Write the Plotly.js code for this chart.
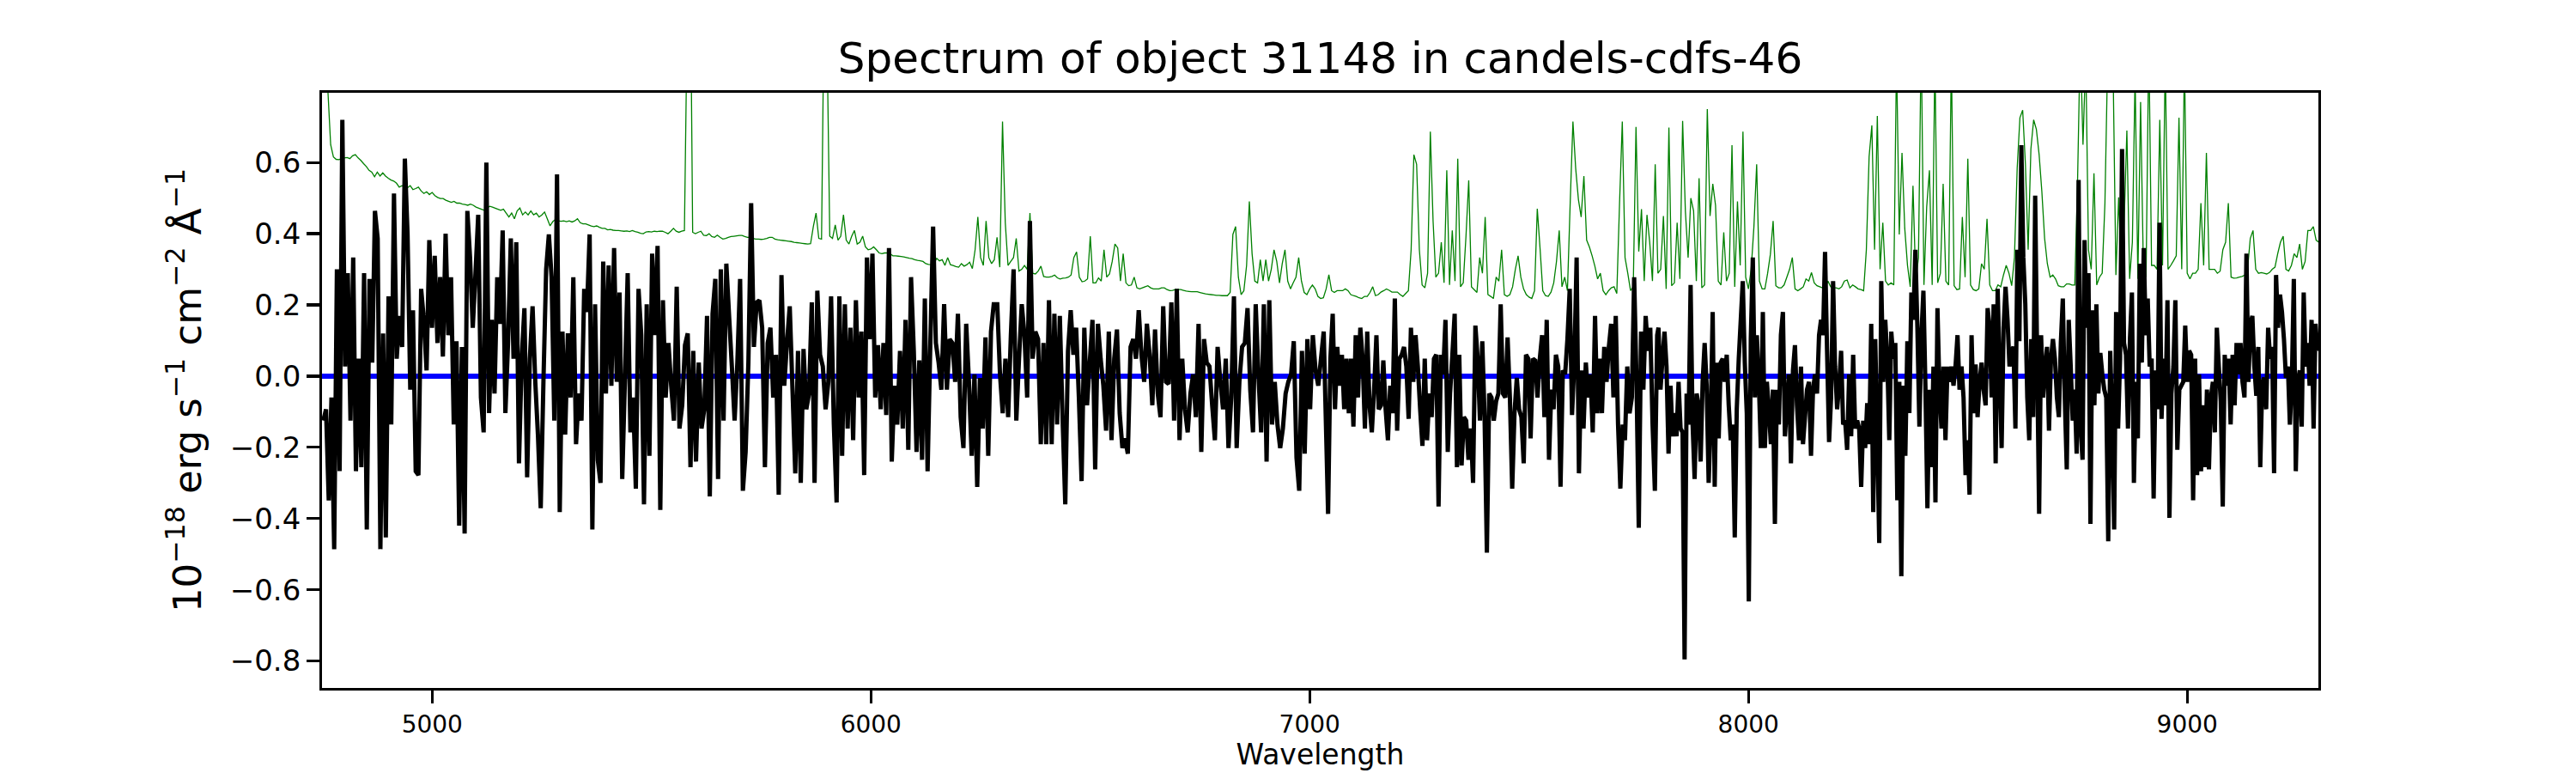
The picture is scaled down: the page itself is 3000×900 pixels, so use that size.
<!DOCTYPE html>
<html>
<head>
<meta charset="utf-8">
<script src="https://cdn.plot.ly/plotly-3.0.1.min.js"></script>
<style>
  body { margin: 0; background: #fff; }
  #chart { width: 3000px; height: 900px; }
</style>
</head>
<body>
<div id="chart"></div>
<script>
// flux of the object in six pieces (start / end wavelength of each piece)
const segStart = [4752, 5526, 6288, 7042, 7795, 8577];
const segEnd = [5520, 6280, 7032, 7792, 8568, 9297];

const flux1 = [-0.125,-0.093,-0.349,-0.06,-0.486,0.30,-0.267,0.72,0.027,0.289,
  -0.125,0.333,-0.267,0.049,-0.256,0.289,-0.431,0.273,0.038,0.464,
  0.387,-0.486,0.12,-0.453,0.224,-0.136,0.513,0.049,0.169,0.082,
  0.611,0.398,-0.038,0.185,-0.267,-0.278,0.245,0.158,0.016,0.382,
  0.136,0.338,0.093,0.278,0.055,0.40,0.115,0.278,-0.136,0.098,
  -0.42,0.082,-0.442,0.464,0.333,0.136,0.289,0.453,-0.06,-0.158,
  0.60,-0.104,0.158,-0.049,0.278,0.147,0.409,-0.104,0.098,0.387,
  0.049,0.376,-0.245,0.049,0.191,-0.284,0.049,0.196,-0.016,-0.169,
  -0.371,-0.016,0.30,0.398,0.278,-0.125,0.567,-0.382,0.125,-0.164,
  0.12,-0.06,0.278,-0.191,-0.049,-0.125,0.245,0.18,0.398,-0.431,
  0.202,-0.235,-0.30,0.322,-0.049,0.311,-0.027,0.36,-0.016,0.235,
  -0.289,-0.005,0.289,-0.158,-0.06,-0.316,0.245,0.115,-0.36,0.202,
  -0.224,0.344,0.115,0.366,-0.376];
const flux2 = [0.213,-0.06,0.093,-0.027,-0.125,0.251,-0.147,-0.082,0.087,0.12,
  -0.256,0.071,-0.24,0.038,-0.147,-0.093,0.169,-0.338,0.175,0.273,
  -0.289,0.30,-0.125,0.316,0.169,0.027,-0.125,0.038,0.273,-0.322,
  -0.213,0.038,0.486,0.082,0.207,0.213,0.136,-0.256,0.093,0.136,
  -0.06,0.06,-0.333,0.284,-0.027,0.093,0.196,-0.038,-0.273,0.071,
  -0.30,0.076,-0.093,-0.049,0.207,-0.30,0.24,0.06,0.027,-0.093,
  -0.016,0.224,-0.136,-0.355,0.224,-0.224,0.202,-0.147,0.136,-0.18,
  0.213,-0.06,0.125,-0.278,0.333,0.104,0.344,-0.06,0.087,-0.093,
  0.093,-0.109,0.36,-0.24,-0.027,-0.136,0.071,-0.147,0.158,-0.207,
  0.278,0.071,-0.213,0.044,-0.235,0.218,-0.267,0.093,0.42,0.093,
  0.038,-0.038,0.202,-0.038,0.104,0.093,-0.016,0.175,-0.115,-0.202,
  0.147,-0.016,-0.224,0.005,-0.311,-0.005,-0.147,0.109,-0.224,0.125,
  0.202];
const flux3 = [0.202,0.005,-0.104,0.049,-0.115,0.115,0.30,-0.125,0.049,0.202,
  0.115,-0.06,0.436,0.049,0.125,0.104,-0.191,0.093,-0.191,0.213,
  -0.191,0.175,-0.136,0.169,-0.115,-0.36,0.071,0.185,0.06,0.136,
  -0.06,-0.295,0.136,-0.082,0.038,0.158,-0.262,0.147,0.049,-0.027,
  -0.153,0.125,-0.18,0.049,0.131,-0.104,-0.202,-0.175,-0.218,0.082,
  0.104,0.049,0.185,0.06,-0.016,0.147,0.06,-0.082,0.131,-0.049,
  -0.115,0.196,-0.016,-0.022,0.207,-0.125,0.245,-0.18,0.049,-0.093,
  -0.158,-0.049,0.005,-0.115,0.147,-0.213,0.104,0.038,0.027,-0.082,
  -0.18,0.082,-0.016,-0.093,0.049,-0.202,-0.06,0.224,-0.202,-0.016,
  0.082,0.093,0.191,-0.038,-0.158,0.202,0.005,-0.158,0.202,-0.24,
  0.213,-0.136,-0.016,-0.136,-0.202,-0.147,-0.049,-0.016,0.005,0.098,
  -0.229,-0.322,0.071,-0.218,0.104,-0.093,0.115,0.016,-0.027,0.049,
  0.125];
const flux4 = [-0.387,0.049,0.175,-0.093,0.082,-0.027,0.06,-0.093,0.049,-0.104,
  0.049,-0.142,0.115,-0.06,0.136,0.049,-0.147,0.125,-0.082,-0.158,
  -0.038,0.115,-0.093,-0.082,0.044,-0.093,-0.18,-0.027,-0.104,0.218,
  -0.153,0.049,0.06,0.082,0.027,-0.12,0.136,-0.016,0.115,0.027,
  -0.093,-0.196,0.049,-0.18,-0.049,-0.115,0.049,0.06,-0.366,0.06,
  0.005,0.158,-0.213,-0.049,0.06,0.175,-0.256,0.06,-0.251,-0.115,
  -0.125,-0.235,-0.147,-0.30,0.142,0.049,-0.125,0.098,-0.115,-0.496,
  -0.049,-0.06,-0.125,-0.071,-0.049,0.202,-0.049,-0.06,0.109,-0.06,
  -0.316,-0.104,-0.005,-0.093,-0.115,-0.245,0.06,0.049,-0.175,0.049,
  0.044,-0.06,0.049,0.115,-0.115,0.158,-0.235,-0.038,-0.093,0.06,
  0.027,-0.311,0.016,0.005,0.104,0.245,-0.109,0.038,0.333,-0.273,
  0.016,-0.147,0.038,-0.06,0.005,-0.158,0.169,-0.104,0.049,-0.104,
  0.082,-0.016,0.082,0.147,-0.06,0.169,-0.136,-0.316,-0.136,-0.18,
  0.027,-0.104,-0.06,0.278,-0.005,-0.426,0.125,-0.038,0.169,0.071,
  0.136,-0.136,-0.322,0.115];
const flux5 = [0.136,-0.038,0.049,0.125,0.027,-0.218,-0.027,-0.169,-0.104,-0.169,
  -0.016,-0.147,-0.158,-0.796,-0.049,-0.136,0.256,-0.136,-0.289,-0.049,
  -0.082,-0.24,-0.016,0.093,-0.027,-0.30,-0.125,0.18,-0.311,0.038,
  -0.175,0.038,0.049,-0.016,0.06,-0.082,-0.18,-0.136,-0.453,-0.093,
  0.049,0.158,0.267,0.038,-0.104,-0.633,0.104,0.333,-0.06,0.115,
  -0.016,-0.202,0.18,-0.202,-0.016,-0.093,-0.191,-0.038,-0.415,-0.038,
  -0.136,0.115,0.18,-0.169,-0.082,0.005,-0.245,0.016,0.087,-0.082,
  -0.18,0.027,-0.191,-0.115,-0.038,-0.016,-0.224,-0.038,0.005,-0.049,
  0.115,0.158,0.115,0.349,0.071,-0.185,-0.06,0.267,0.027,-0.093,
  -0.027,0.071,-0.136,-0.125,-0.207,0.005,-0.169,0.06,-0.147,-0.125,
  -0.147,-0.311,-0.125,-0.202,-0.076,-0.191,0.147,-0.382,0.104,-0.169,
  -0.469,0.267,-0.016,0.158,0.049,-0.18,0.125,0.049,0.093,-0.349,
  -0.016,-0.562,-0.027,-0.224,0.098,-0.104,0.235,0.158,0.355,0.136,
  -0.142,0.115,0.24,-0.027,-0.371,-0.038,-0.256,0.027,-0.355,0.191,
  -0.038,-0.147,0.027,-0.18,0.027,-0.016,0.027,-0.027,0.027,0.115,
  -0.038,0.027,-0.06,-0.278,-0.18,-0.333,0.115,-0.104,0.033,-0.115,
  -0.016,0.038,-0.038,-0.082,0.191,0.136,-0.06,0.202,-0.245,0.245];
const flux6 = [-0.202,0.136,0.251,0.158,0.027,0.071,0.082,-0.147,0.355,0.098,
  0.649,0.333,0.202,-0.06,-0.18,0.104,-0.115,0.507,0.049,-0.387,
  0.115,-0.06,0.027,0.082,-0.153,0.049,0.104,0.049,-0.06,-0.115,
  0.093,0.218,-0.06,-0.262,0.158,0.027,-0.125,-0.038,-0.218,0.551,
  -0.147,-0.235,0.382,0.136,0.289,-0.415,0.185,-0.082,0.202,-0.049,
  0.065,0.005,-0.038,-0.06,-0.464,0.071,-0.125,-0.431,0.18,-0.147,
  0.049,0.638,0.093,0.06,-0.147,0.104,0.235,-0.30,-0.016,-0.175,
  0.316,0.038,0.36,0.115,0.218,0.027,0.049,-0.344,0.016,-0.093,
  0.431,-0.12,0.049,-0.082,0.213,-0.398,-0.049,0.027,0.213,-0.207,
  -0.038,-0.027,-0.016,0.142,-0.016,0.071,0.06,-0.349,0.049,-0.278,
  0.005,-0.267,-0.082,-0.256,-0.038,-0.262,-0.06,-0.016,-0.158,0.136,
  0.027,-0.071,-0.366,0.06,-0.027,0.049,-0.136,0.06,-0.082,0.093,
  0.005,0.093,-0.016,-0.06,0.344,-0.016,0.147,0.169,0.027,-0.055,
  0.082,-0.256,-0.016,-0.005,-0.093,0.136,0.049,0.082,-0.273,0.284,
  0.136,0.229,0.18,0.104,-0.005,0.027,-0.136,-0.016,0.273,-0.267,
  -0.016,0.016,-0.142,0.235,0.027,0.093,-0.027,0.158,-0.147,0.147,
  0.071];

// noise spectrum (green), on a regular grid of 6.25 A from 4750 A
const noiseStart = 4750;
const noiseStep = 6.25;
const noise1 = [1.0,0.9,0.8,0.65,0.616,0.609,0.608,0.611,0.613,0.614,
  0.611,0.619,0.622,0.613,0.606,0.597,0.589,0.578,0.573,0.56,
  0.573,0.562,0.571,0.562,0.556,0.551,0.548,0.542,0.531,0.535,
  0.531,0.529,0.535,0.524,0.527,0.531,0.52,0.513,0.518,0.51,
  0.516,0.507,0.502,0.499,0.499,0.494,0.491,0.488,0.491,0.486,
  0.486,0.483,0.482,0.48,0.483,0.48,0.475,0.472,0.469,0.466,
  0.472,0.477,0.475,0.472,0.469,0.466,0.469,0.458,0.447,0.458,
  0.442,0.464,0.472,0.453,0.461,0.453,0.464,0.453,0.458,0.447,
  0.453,0.461,0.442,0.422,0.434,0.44,0.436,0.435,0.436,0.434,
  0.436,0.433,0.436,0.442,0.431,0.428,0.428,0.425,0.422,0.42,
  0.422,0.418,0.415,0.415,0.411,0.412,0.41,0.409,0.409,0.408,
  0.407,0.408,0.406,0.409,0.406,0.404,0.401,0.40,0.405,0.406,
  0.405,0.407,0.406,0.407,0.407];
const noise2 = [0.404,0.40,0.407,0.415,0.407,0.404,0.407,0.409,1.0,1.3,
  0.404,0.40,0.404,0.407,0.396,0.395,0.40,0.392,0.39,0.396,
  0.39,0.385,0.387,0.39,0.392,0.393,0.394,0.395,0.395,0.392,
  0.39,0.39,0.387,0.385,0.385,0.384,0.385,0.387,0.39,0.39,
  0.385,0.383,0.382,0.381,0.38,0.379,0.378,0.376,0.375,0.374,
  0.373,0.372,0.371,0.372,0.42,0.458,0.387,0.385,1.1,0.95,
  0.393,0.387,0.425,0.382,0.393,0.453,0.382,0.371,0.393,0.409,
  0.371,0.376,0.393,0.363,0.355,0.357,0.363,0.355,0.346,0.344,
  0.346,0.346,0.344,0.338,0.338,0.337,0.336,0.335,0.333,0.331,
  0.33,0.327,0.325,0.324,0.322,0.316,0.314,0.313,0.316,0.331,
  0.324,0.327,0.311,0.333,0.313,0.311,0.308,0.306,0.316,0.309,
  0.313,0.32,0.302,0.355,0.447,0.333,0.311,0.436,0.333,0.316,
  0.327];
const noise3 = [0.39,0.306,0.715,0.431,0.311,0.322,0.333,0.387,0.295,0.30,
  0.311,0.30,0.458,0.289,0.287,0.295,0.309,0.28,0.278,0.278,
  0.28,0.284,0.276,0.273,0.275,0.276,0.278,0.284,0.333,0.349,
  0.278,0.265,0.267,0.273,0.393,0.262,0.262,0.276,0.267,0.355,
  0.278,0.287,0.322,0.371,0.36,0.267,0.344,0.262,0.254,0.256,
  0.278,0.248,0.245,0.248,0.251,0.254,0.248,0.245,0.245,0.245,
  0.248,0.248,0.243,0.24,0.241,0.243,0.243,0.243,0.241,0.239,
  0.238,0.237,0.237,0.237,0.235,0.233,0.231,0.23,0.229,0.228,
  0.227,0.227,0.226,0.226,0.226,0.235,0.398,0.42,0.278,0.229,
  0.24,0.311,0.491,0.344,0.267,0.262,0.327,0.267,0.327,0.267,
  0.30,0.355,0.322,0.262,0.316,0.355,0.267,0.245,0.262,0.278,
  0.333,0.267,0.235,0.229,0.245,0.256,0.245,0.224,0.218,0.22,
  0.245];
const noise4 = [0.285,0.24,0.235,0.24,0.24,0.24,0.245,0.24,0.229,0.226,
  0.224,0.22,0.218,0.224,0.224,0.235,0.251,0.226,0.229,0.236,
  0.24,0.245,0.241,0.236,0.236,0.236,0.229,0.224,0.232,0.24,
  0.355,0.622,0.595,0.355,0.256,0.248,0.289,0.687,0.436,0.278,
  0.289,0.376,0.262,0.578,0.256,0.409,0.267,0.611,0.251,0.262,
  0.393,0.55,0.251,0.243,0.235,0.333,0.289,0.447,0.229,0.224,
  0.218,0.278,0.267,0.355,0.229,0.224,0.229,0.251,0.30,0.338,
  0.278,0.245,0.229,0.222,0.218,0.24,0.47,0.36,0.24,0.226,
  0.224,0.236,0.262,0.322,0.409,0.251,0.278,0.24,0.486,0.715,
  0.584,0.496,0.447,0.562,0.382,0.363,0.338,0.309,0.273,0.289,
  0.24,0.229,0.24,0.248,0.251,0.232,0.486,0.715,0.333,0.289,
  0.24,0.251,0.70,0.35,0.469,0.267,0.453,0.376,0.267,0.595,
  0.289];
const noise5 = [0.30,0.45,0.245,0.698,0.254,0.262,0.431,0.273,0.717,0.464,
  0.333,0.50,0.464,0.267,0.556,0.248,0.256,0.75,0.45,0.54,
  0.48,0.267,0.256,0.404,0.267,0.289,0.649,0.251,0.491,0.311,
  0.687,0.278,0.245,0.30,0.42,0.595,0.267,0.245,0.245,0.289,
  0.342,0.436,0.254,0.248,0.248,0.256,0.278,0.30,0.333,0.245,
  0.24,0.245,0.251,0.273,0.267,0.291,0.262,0.254,0.251,0.248,
  0.248,0.267,0.251,0.248,0.248,0.245,0.251,0.267,0.27,0.248,
  0.256,0.251,0.245,0.243,0.24,0.355,0.616,0.704,0.355,0.731,
  0.30,0.431,0.267,0.256,0.262,0.256,0.9,0.398,0.627,0.415,
  0.311,0.251,0.535,0.267,0.333,0.95,0.256,0.475,0.578,0.256,
  0.9,0.262,0.289,0.54,0.267,0.256,0.9,0.254,0.243,0.245,
  0.447,0.278,0.611,0.256,0.243,0.24,0.245,0.316,0.30,0.442,
  0.256];
const noise6 = [0.24,0.24,0.256,0.251,0.284,0.311,0.289,0.254,0.333,0.584,
  0.726,0.747,0.595,0.355,0.638,0.72,0.693,0.622,0.518,0.387,
  0.316,0.278,0.284,0.273,0.254,0.251,0.251,0.259,0.259,0.256,
  0.256,0.54,0.95,0.65,0.9,0.355,0.30,0.57,0.256,0.278,
  0.289,0.486,0.9,0.95,0.85,0.284,0.502,0.278,0.431,0.69,
  0.273,0.376,0.85,0.273,0.77,0.311,0.278,0.95,0.311,0.311,
  0.30,0.72,0.311,0.9,0.30,0.311,0.324,0.338,0.726,0.30,
  0.9,0.289,0.273,0.289,0.289,0.30,0.486,0.311,0.627,0.30,
  0.30,0.30,0.289,0.295,0.355,0.376,0.486,0.278,0.275,0.276,
  0.278,0.28,0.284,0.30,0.387,0.409,0.30,0.289,0.291,0.289,
  0.287,0.291,0.30,0.306,0.344,0.376,0.393,0.30,0.295,0.311,
  0.344,0.333,0.371,0.30,0.322,0.409,0.409,0.42,0.382,0.376];

const titleText = 'Spectrum of object 31148 in candels-cdfs-46';
const xLabel = 'Wavelength';
const yLabel = '10<sup>\u221218</sup> erg s<sup>\u22121</sup> cm<sup>\u22122</sup> \u00c5<sup>\u22121</sup>';

// spread each piece evenly between its start and end wavelength
const fluxSegs = [flux1, flux2, flux3, flux4, flux5, flux6];
const wave = [];
const flux = [];
fluxSegs.forEach((seg, k) => {
  const step = (segEnd[k] - segStart[k]) / (seg.length - 1);
  seg.forEach((v, i) => {
    wave.push(segStart[k] + i * step);
    flux.push(v);
  });
});
const noise = [].concat(noise1, noise2, noise3, noise4, noise5, noise6);

const font = 'DejaVu Sans, sans-serif';

const noiseTrace = {
  y: noise,
  x0: noiseStart,
  dx: noiseStep,
  type: 'scatter',
  mode: 'lines',
  line: {color: '#008000', width: 1.3, simplify: false},
  hoverinfo: 'skip'
};
const fluxTrace = {
  x: wave,
  y: flux,
  type: 'scatter',
  mode: 'lines',
  line: {color: '#000000', width: 5, simplify: false},
  hoverinfo: 'skip'
};

const layout = {
  width: 3000,
  height: 900,
  paper_bgcolor: '#ffffff',
  plot_bgcolor: '#ffffff',
  showlegend: false,
  margin: {l: 375, r: 300, t: 108, b: 99, pad: 0},
  title: {
    text: titleText,
    font: {family: font, size: 50, color: '#000'},
    x: 0.5, xref: 'paper', xanchor: 'center',
    y: 1 - 67 / 900, yref: 'container', yanchor: 'middle'
  },
  xaxis: {
    range: [4749, 9299],
    dtick: 1000,
    tick0: 0,
    tickformat: 'd',
    ticks: 'outside',
    ticklen: 14.6,
    tickwidth: 3.3,
    tickcolor: '#000',
    tickfont: {family: font, size: 28, color: '#000'},
    showline: true,
    linewidth: 3.3,
    linecolor: '#000',
    mirror: true,
    showgrid: false,
    zeroline: false,
    title: {text: xLabel, font: {family: font, size: 33, color: '#000'}, standoff: 6}
  },
  yaxis: {
    range: [-0.876, 0.796],
    dtick: 0.2,
    tick0: 0,
    tickformat: '.1f',
    ticks: 'outside',
    ticklen: 14.6,
    tickwidth: 3.3,
    tickcolor: '#000',
    tickfont: {family: font, size: 34, color: '#000'},
    showline: true,
    linewidth: 3.3,
    linecolor: '#000',
    mirror: true,
    showgrid: false,
    zeroline: true,
    zerolinecolor: '#0000ff',
    zerolinewidth: 6,
    title: {text: yLabel, font: {family: font, size: 45, color: '#000'}, standoff: 20}
  }
};

Plotly.newPlot('chart', [noiseTrace, fluxTrace], layout, {staticPlot: true, displayModeBar: false});
</script>
</body>
</html>
